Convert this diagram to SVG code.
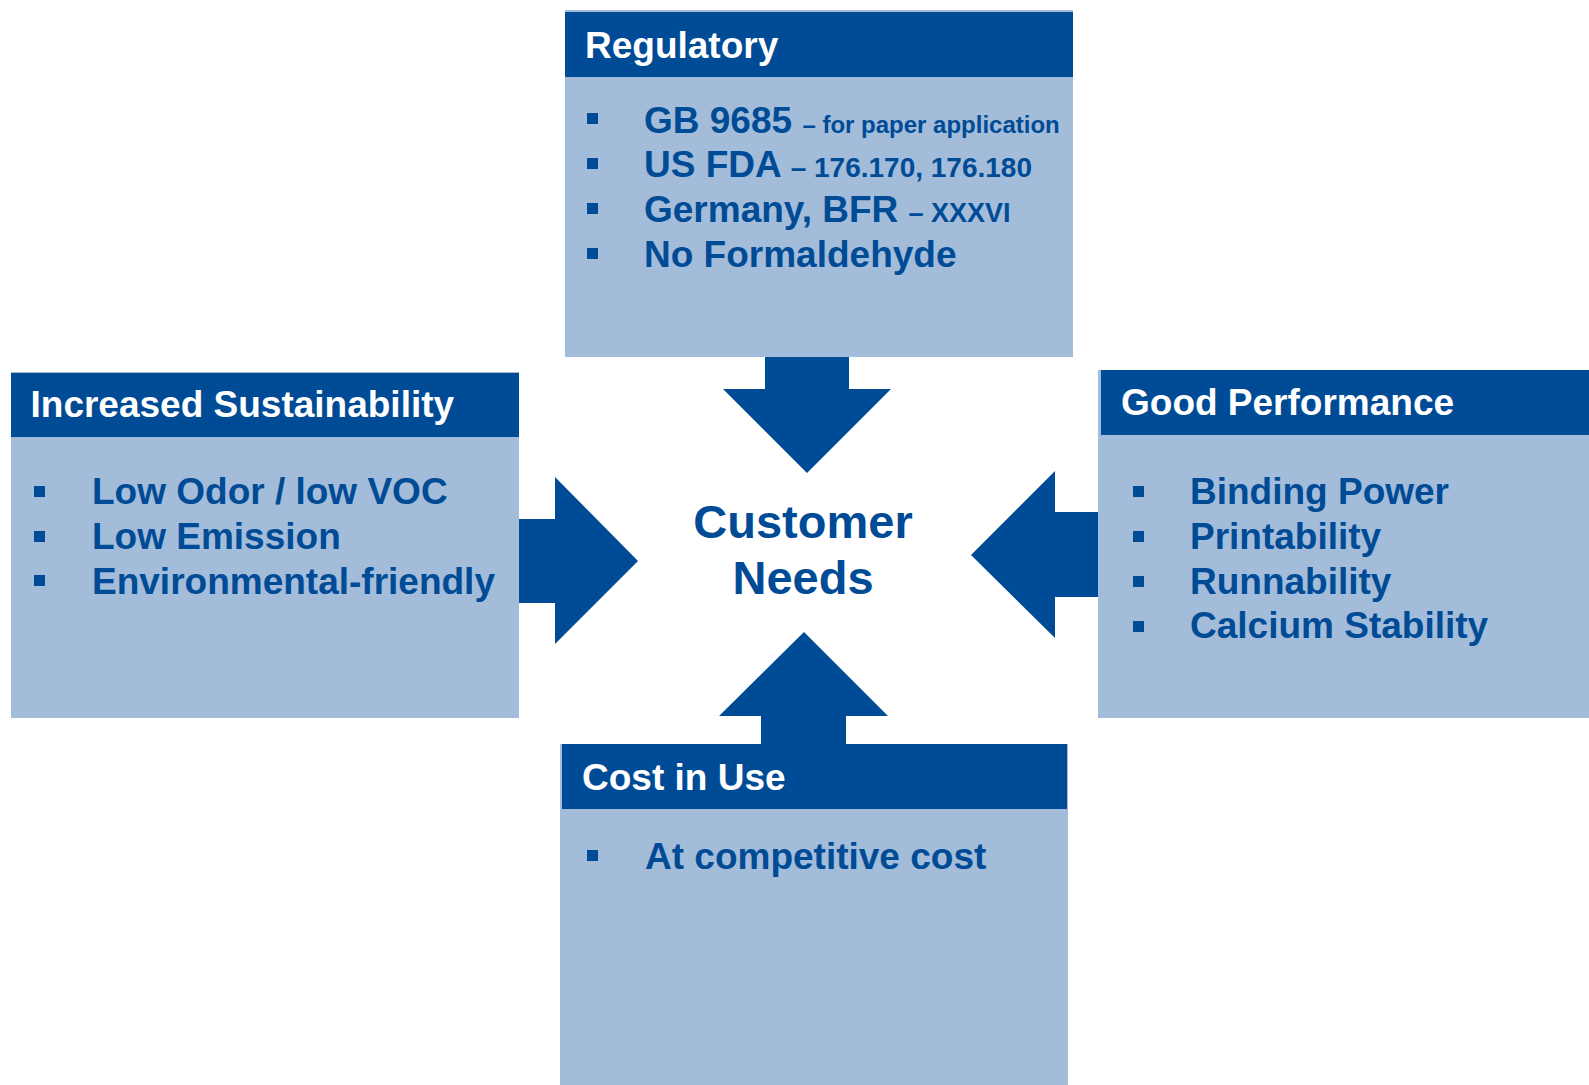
<svg xmlns="http://www.w3.org/2000/svg" width="1589" height="1085" viewBox="0 0 1589 1085">
<style>
.body{fill:#A2BCD9}
.head{fill:#004B96}
.arrow{fill:#004B96}
.t{font-family:"Liberation Sans",Arial,Helvetica,sans-serif;font-weight:bold}
.title{font-size:37px;fill:#FFFFFF}
.item{font-size:37px;fill:#004B96}
.bul{fill:#004B96}
.center{font-size:47px;fill:#004B96}
</style>
<rect width="1589" height="1085" fill="#FFFFFF"/>
<g id="connectors">
<polygon class="arrow" points="765,357 849,357 849,389 891,389 807,473 723,389 765,389"/>
<polygon class="arrow" points="519,519 555,519 555,477 638,561 555,644 555,603 519,603"/>
<polygon class="arrow" points="1099,512 1055,512 1055,471 971,555 1055,638 1055,597 1099,597"/>
<polygon class="arrow" points="761,745 761,716 719,716 804,632 888,716 846,716 846,745"/>
</g>
<g id="regulatory">
<rect class="body" x="565" y="10" width="508" height="347"/>
<rect class="head" x="565" y="12" width="508" height="65"/>
<text class="t title" x="585" y="58">Regulatory</text>
<rect class="bul" x="587" y="113" width="11" height="11"/>
<rect class="bul" x="587" y="158" width="11" height="11"/>
<rect class="bul" x="587" y="203" width="11" height="11"/>
<rect class="bul" x="587" y="248" width="11" height="11"/>
<text class="t item" x="644" y="132.5">GB 9685 <tspan font-size="24">– for paper application</tspan></text>
<text class="t item" x="644" y="177">US FDA <tspan font-size="28">– 176.170, 176.180</tspan></text>
<text class="t item" x="644" y="221.5">Germany, BFR <tspan font-size="27">– XXXVI</tspan></text>
<text class="t item" x="644" y="266.5">No Formaldehyde</text>
</g>
<g id="sustainability">
<rect class="body" x="11" y="372" width="508" height="346"/>
<rect class="head" x="11" y="373" width="508" height="64"/>
<text class="t title" x="30.5" y="417">Increased Sustainability</text>
<rect class="bul" x="34" y="486" width="11" height="11"/>
<rect class="bul" x="34" y="531" width="11" height="11"/>
<rect class="bul" x="34" y="575" width="11" height="11"/>
<text class="t item" x="92" y="504">Low Odor / low VOC</text>
<text class="t item" x="92" y="549">Low Emission</text>
<text class="t item" x="92" y="594">Environmental-friendly</text>
</g>
<g id="performance">
<rect class="body" x="1098" y="370" width="491" height="348"/>
<rect class="head" x="1101" y="370" width="488" height="65"/>
<text class="t title" x="1121" y="415">Good Performance</text>
<rect class="bul" x="1133" y="486" width="11" height="11"/>
<rect class="bul" x="1133" y="531" width="11" height="11"/>
<rect class="bul" x="1133" y="576" width="11" height="11"/>
<rect class="bul" x="1133" y="621" width="11" height="11"/>
<text class="t item" x="1190" y="504">Binding Power</text>
<text class="t item" x="1190" y="549">Printability</text>
<text class="t item" x="1190" y="594">Runnability</text>
<text class="t item" x="1190" y="638">Calcium Stability</text>
</g>
<g id="cost">
<rect class="body" x="560" y="744" width="508" height="341"/>
<rect class="head" x="562" y="744" width="505" height="65"/>
<text class="t title" x="582" y="790">Cost in Use</text>
<rect class="bul" x="587" y="850" width="11" height="11"/>
<text class="t item" x="645" y="869">At competitive cost</text>
</g>
<g id="customer-needs">
<text class="t center" x="803" y="538" text-anchor="middle">Customer</text>
<text class="t center" x="803" y="594" text-anchor="middle">Needs</text>
</g>
</svg>
